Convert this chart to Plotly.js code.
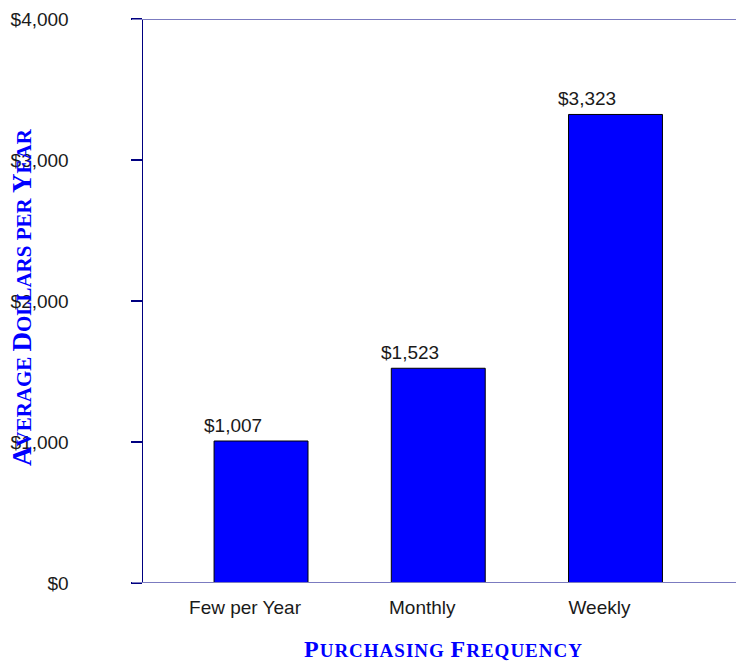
<!DOCTYPE html>
<html>
<head>
<meta charset="utf-8">
<script src="https://cdn.plot.ly/plotly-3.0.1.min.js"></script>
<style>html,body{margin:0;padding:0;background:#fff;}#chart{width:736px;height:663px;}</style>
</head>
<body>
<div id="chart"></div>
<script>
var categories = ["Few per Year", "Monthly", "Weekly"];
var values = [1007, 1523, 3323];
var yTickVals = [0, 1000, 2000, 3000, 4000];
var yTickText = ["$0", "$1,000", "$2,000", "$3,000", "$4,000"];

function sc(big, small, word) {
  return '<span style="font-size:' + big + 'px">' + word[0] + '</span><span style="font-size:' + small + 'px">' + word.slice(1) + '</span>';
}
var yTitle = sc(27, 21, "AVERAGE ") + sc(27, 21, "DOLLARS PER ") + sc(27, 21, "YEAR");
var xTitle = '<span style="letter-spacing:1px">' + sc(24, 19, "PURCHASING ") + sc(24, 19, "FREQUENCY") + '</span>';

var W = 736, L = 143, R = 0, T = 19, B = 80;
var pw = W - L - R, ph = 663 - T - B;

var annotations = categories.map(function (c, i) {
  return {
    x: c, y: values[i], xref: 'x', yref: 'y',
    text: '$' + values[i].toLocaleString('en-US'),
    showarrow: false, xanchor: 'center', yanchor: 'bottom',
    xshift: -28, yshift: 3,
    font: {family: 'Liberation Sans, Arial, sans-serif', size: 19, color: '#1a1a1a'}
  };
});
annotations.push({
  xref: 'paper', yref: 'paper', x: (22 - L) / pw, y: (583 - 297) / ph,
  text: yTitle, textangle: -90, showarrow: false, xanchor: 'center', yanchor: 'middle',
  font: {family: 'Liberation Serif, Times New Roman, serif', size: 21, color: '#0000ff', weight: 'bold'}
});
annotations.push({
  xref: 'paper', yref: 'paper', x: (443 - L) / pw, y: (583 - 649) / ph,
  text: xTitle, showarrow: false, xanchor: 'center', yanchor: 'middle',
  font: {family: 'Liberation Serif, Times New Roman, serif', size: 19, color: '#0000ff', weight: 'bold'}
});

var trace = {
  type: 'bar', x: categories, y: values, width: 0.53,
  marker: {color: '#0000ff', line: {color: '#000000', width: 1}},
  hoverinfo: 'none'
};

var layout = {
  width: W, height: 663,
  margin: {l: L, r: R, t: T, b: B, pad: 0},
  paper_bgcolor: '#ffffff', plot_bgcolor: '#ffffff',
  showlegend: false,
  xaxis: {
    type: 'category', range: [-0.666, 2.68], fixedrange: true,
    showline: false, showgrid: false, zeroline: false, ticks: '',
    tickfont: {family: 'Liberation Sans, Arial, sans-serif', size: 19, color: '#1a1a1a'},
    ticklabelshift: -16, ticklabelstandoff: 11
  },
  yaxis: {
    range: [0, 4000], fixedrange: true,
    tickvals: yTickVals, ticktext: yTickText,
    ticks: 'outside', ticklen: 11, tickwidth: 1.5, tickcolor: '#000080',
    showline: true, linecolor: '#000080', linewidth: 1.5,
    showgrid: false, zeroline: false,
    tickfont: {family: 'Liberation Sans, Arial, sans-serif', size: 19, color: '#1a1a1a'},
    ticklabelstandoff: 58
  },
  shapes: [
    {type: 'line', xref: 'paper', yref: 'y', x0: -11 / pw, x1: 1, y0: 4000, y1: 4000, line: {color: '#7b7bc0', width: 2}},
    {type: 'line', xref: 'paper', yref: 'y', x0: -11 / pw, x1: 1, y0: 0, y1: 0, line: {color: '#7b7bc0', width: 2}}
  ],
  annotations: annotations
};

Plotly.newPlot('chart', [trace], layout, {staticPlot: true, displayModeBar: false});
</script>
</body>
</html>
